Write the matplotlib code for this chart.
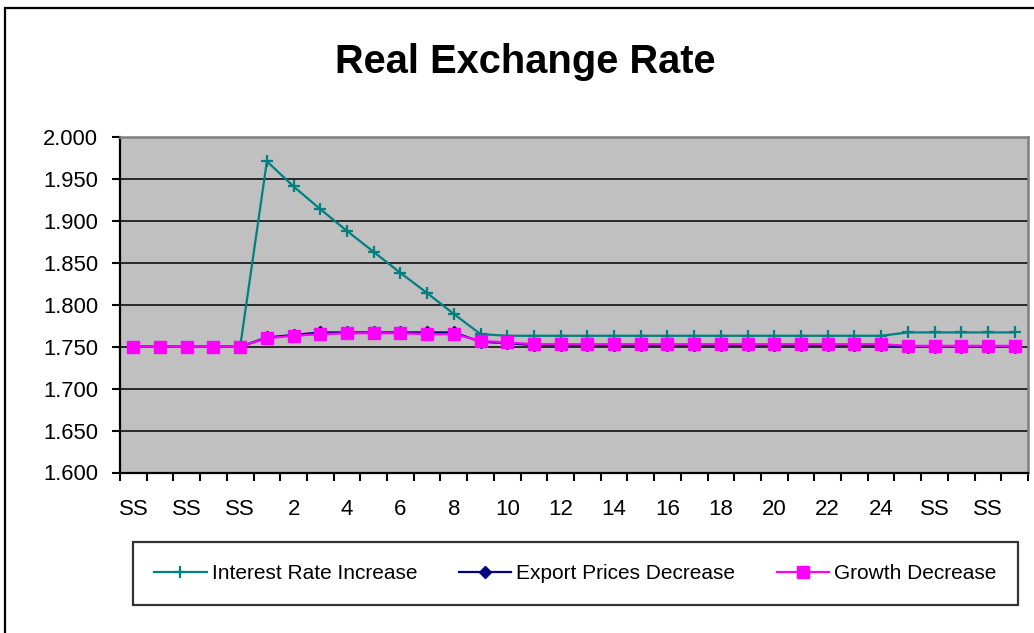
import matplotlib
matplotlib.use("Agg")
import matplotlib.pyplot as plt
import matplotlib.patches as patches
import numpy as np

plt.rcParams['font.family'] = ['Liberation Sans', 'DejaVu Sans']

categories = ["SS"] * 5 + [str(i) for i in range(1, 26)] + ["SS"] * 4

interest_rate_increase = [1.750] * 5 + [1.971, 1.941, 1.914, 1.888, 1.863, 1.838, 1.814, 1.789, 1.765] \
    + [1.763] * 15 + [1.767] * 5
export_prices_decrease = [1.750] * 5 + [1.761, 1.764, 1.767, 1.767, 1.767, 1.767, 1.767, 1.767, 1.756, 1.754] \
    + [1.752] * 14 + [1.750] * 5
growth_decrease = [1.750] * 5 + [1.760, 1.763, 1.765, 1.766, 1.766, 1.766, 1.765, 1.765, 1.757, 1.755] \
    + [1.753] * 14 + [1.751] * 5

series_names = ["Interest Rate Increase", "Export Prices Decrease", "Growth Decrease"]
y_ticks = [1.600, 1.650, 1.700, 1.750, 1.800, 1.850, 1.900, 1.950, 2.000]

W, H = 1034, 633
fig = plt.figure(figsize=(W / 100, H / 100), dpi=100)
fig.patch.set_facecolor("white")

# outer chart frame (extends beyond the image on right/bottom)
frame = patches.Rectangle((5 / W, -0.2), 1.5, 1 - 8 / H + 0.2, transform=fig.transFigure,
                          fill=False, edgecolor="black", linewidth=1.6, zorder=0)
fig.patches.append(frame)

left, right, bottom, top = 120 / W, 1028 / W, 1 - 472.5 / H, 1 - 137 / H
ax = fig.add_axes([left, bottom, right - left, top - bottom])
ax.set_facecolor("#C0C0C0")

x = np.arange(len(categories))

ax.plot(x, interest_rate_increase, color="#008080", linewidth=1.6, marker="+",
        markersize=9, markeredgewidth=1.6, label=series_names[0], zorder=3)
ax.plot(x, export_prices_decrease, color="#000080", linewidth=1.6, marker="D",
        markersize=6.5, markerfacecolor="#000080", markeredgecolor="#000080",
        label=series_names[1], zorder=4)
ax.plot(x, growth_decrease, color="#FF00FF", linewidth=1.6, marker="s",
        markersize=8, markerfacecolor="#FF00FF", markeredgecolor="#FF00FF",
        label=series_names[2], zorder=5)

ax.set_xlim(-0.5, len(categories) - 0.5)
ax.set_ylim(1.6, 2.0)

ax.set_yticks(y_ticks)
ax.set_yticklabels([f"{v:.3f}" for v in y_ticks], fontsize=15.8)
for v in y_ticks[1:-1]:
    ax.axhline(v, color="black", linewidth=1.1, zorder=1)

# category boundary ticks, labels at every other category
ax.set_xticks(np.arange(len(categories) + 1) - 0.5)
ax.set_xticklabels([])
ax.set_xticks(x[::2], minor=True)
ax.set_xticklabels(categories[::2], minor=True, fontsize=16)
ax.tick_params(axis="x", which="major", direction="out", length=6, width=1.5, color="black")
ax.tick_params(axis="x", which="minor", length=0, pad=19)
ax.tick_params(axis="y", direction="out", length=6, width=1.5, pad=9.7, color="black")

for s in ["left", "bottom"]:
    ax.spines[s].set_color("black")
    ax.spines[s].set_linewidth(1.6)
for s in ["top", "right"]:
    ax.spines[s].set_color("#808080")
    ax.spines[s].set_linewidth(1.8)

fig.text(525 / W, 1 - 73 / H, "Real Exchange Rate", ha="center", va="baseline",
         fontsize=28.7, fontweight="bold")

leg = fig.legend(loc="center", bbox_to_anchor=(575.5 / W, 1 - 573.5 / H), ncol=3,
                 fontsize=15, frameon=True, fancybox=False, borderpad=1.05,
                 handlelength=2.5, handletextpad=0.25, columnspacing=2.0)
leg.get_frame().set_edgecolor("black")
leg.get_frame().set_linewidth(1.6)

fig.savefig("out.png", dpi=100, facecolor="white")
